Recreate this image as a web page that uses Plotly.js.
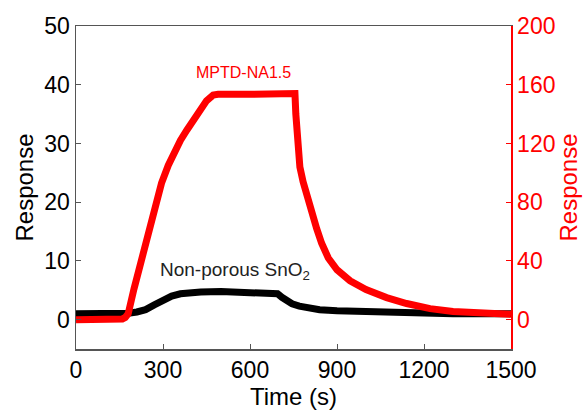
<!DOCTYPE html>
<html>
<head>
<meta charset="utf-8">
<script src="https://cdn.plot.ly/plotly-3.0.1.min.js"></script>
<style>html,body{margin:0;padding:0;background:#fff;}#chart{width:584px;height:414px;}</style>
</head>
<body>
<div id="chart"></div>
<script>
// Non-porous SnO2 (left axis)
const timeBlack = [0, 150, 180, 210, 240, 270, 300, 330, 360, 400, 430, 500, 600, 680, 695, 710, 725, 745, 770, 800, 840, 900, 1000, 1100, 1200, 1300, 1500];
const respBlack = [1.0, 1.0, 1.1, 1.3, 1.7, 2.5, 3.4, 4.0, 4.4, 4.6, 4.7, 4.8, 4.7, 4.6, 4.4, 3.8, 3.2, 2.7, 2.3, 2.0, 1.7, 1.5, 1.3, 1.2, 1.1, 1.0, 1.0];
// MPTD-NA1.5 (right axis)
const timeRed = [0, 150, 160, 170, 180, 200, 230, 255, 275, 295, 318, 340, 360, 382, 405, 428, 450, 473, 490, 600, 700, 755, 758, 762, 772, 783, 795, 813, 830, 847, 870, 900, 945, 1000, 1071, 1140, 1221, 1300, 1428, 1500];
const respRed = [0, 0, 0.5, 1.5, 4, 21, 45, 65, 80, 93, 105, 115, 122, 129, 136, 143, 149, 153, 153.5, 153.5, 153.5, 154, 140, 122, 104, 94, 85, 73, 62, 52, 42, 34, 26.5, 20.5, 15, 11, 7.5, 5.5, 4, 3.6];

const font = 'Liberation Sans, Arial, sans-serif';
const traces = [
  {x: timeBlack, y: respBlack, type: 'scatter', mode: 'lines', line: {color: '#000', width: 7}, yaxis: 'y', showlegend: false},
  {x: timeRed, y: respRed, type: 'scatter', mode: 'lines', line: {color: '#ff0000', width: 7}, yaxis: 'y2', showlegend: false}
];
const layout = {
  width: 584, height: 414,
  margin: {l: 76, r: 73, t: 26, b: 65},
  paper_bgcolor: '#fff', plot_bgcolor: '#fff',
  font: {family: font, size: 23, color: '#000'},
  xaxis: {range: [0, 1500], tickvals: [0, 300, 600, 900, 1200, 1500], ticks: 'inside', ticklen: 5, tickcolor: '#555',
    showline: true, linecolor: '#555', linewidth: 1.5, mirror: true, showgrid: false, zeroline: false,
    title: {text: 'Time (s)', font: {size: 24}, standoff: 4}, tickfont: {size: 23}},
  yaxis: {range: [-5, 50], tickvals: [0, 10, 20, 30, 40, 50], ticks: 'inside', ticklen: 5, tickcolor: '#555',
    showline: true, linecolor: '#555', linewidth: 1.5, showgrid: false, zeroline: false,
    title: {text: 'Response', font: {size: 24}, standoff: 4}, tickfont: {size: 23}},
  yaxis2: {range: [-20, 200], tickvals: [0, 40, 80, 120, 160, 200], ticks: 'inside', ticklen: 5, tickcolor: '#ff0000',
    overlaying: 'y', side: 'right', showline: true, linecolor: '#ff0000', linewidth: 1.5, showgrid: false, zeroline: false,
    title: {text: 'Response', font: {size: 24, color: '#ff0000'}, standoff: 4}, tickfont: {size: 23, color: '#ff0000'}},
  annotations: [
    {text: 'MPTD-NA1.5', x: 576, y: 42.1, xref: 'x', yref: 'y', showarrow: false, font: {size: 16, color: '#ff0000'}},
    {text: 'Non-porous SnO<sub>2</sub>', x: 548, y: 8.2, xref: 'x', yref: 'y', showarrow: false, font: {size: 19, color: '#222'}}
  ]
};
Plotly.newPlot('chart', traces, layout, {displayModeBar: false, staticPlot: true});
</script>
</body>
</html>
